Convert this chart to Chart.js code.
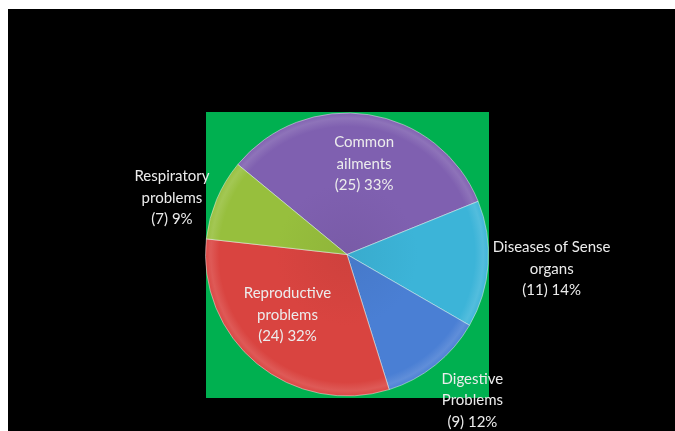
<!DOCTYPE html>
<html>
<head>
<meta charset="utf-8">
<script src="https://cdn.jsdelivr.net/npm/chart.js@4/dist/chart.umd.min.js"></script>
<style>
  html, body { margin: 0; padding: 0; background: #ffffff; }
  #wrap { position: relative; width: 675px; height: 431px; }
  canvas { display: block; }
</style>
</head>
<body>
<div id="wrap"><canvas id="c" width="675" height="431"></canvas></div>
<script>
// Health problem categories and their case counts
const categories = [
  'Common ailments',
  'Diseases of Sense organs',
  'Digestive Problems',
  'Reproductive problems',
  'Respiratory problems'
];
const counts = [25, 11, 9, 24, 7];

// Label text lines (word-wrapped names) and where they sit along each slice's mid-angle
const labelLines = [
  ['Common', 'ailments'],
  ['Diseases of Sense', 'organs'],
  ['Digestive', 'Problems'],
  ['Reproductive', 'problems'],
  ['Respiratory', 'problems']
];
const labelRadius = [0.65, 1.45, 1.36, 0.6, 1.3];
const labelAngleShift = [2, 0, -2, 5, -5];

const sliceColors = ['#7f60b0', '#3cb4d8', '#4a7fd4', '#d94440', '#97bf3d'];
const total = counts.reduce((a, b) => a + b, 0);

function shade(hex, amt) {
  const n = parseInt(hex.slice(1), 16);
  let r = (n >> 16) & 255, g = (n >> 8) & 255, b = n & 255;
  const f = v => Math.max(0, Math.min(255, Math.round(amt >= 0 ? v + (255 - v) * amt : v * (1 + amt))));
  return `rgb(${f(r)},${f(g)},${f(b)})`;
}

// Soft bevel: flat colour with a faint light rim and a darker outer edge
function sliceFill(ctx) {
  const base = sliceColors[ctx.dataIndex];
  const a = ctx.chart.chartArea;
  if (!a) return base;
  const cx = (a.left + a.right) / 2;
  const cy = (a.top + a.bottom) / 2;
  const r = Math.min(a.right - a.left, a.bottom - a.top) / 2;
  const g = ctx.chart.ctx.createRadialGradient(cx, cy, 0, cx, cy, r);
  g.addColorStop(0, shade(base, -0.05));
  g.addColorStop(0.5, base);
  g.addColorStop(0.9, base);
  g.addColorStop(0.96, shade(base, 0.12));
  g.addColorStop(0.99, shade(base, 0.04));
  g.addColorStop(1, shade(base, -0.15));
  return g;
}

const backdrop = {
  id: 'backdrop',
  beforeDraw(chart) {
    const c = chart.ctx;
    const a = chart.chartArea;
    c.save();
    c.fillStyle = '#000000';
    c.fillRect(8, 9, chart.width - 8, chart.height - 9);
    c.fillStyle = '#00b050';
    c.fillRect(a.left + 1, a.top, a.right - a.left - 1, a.bottom - a.top + 1);
    c.restore();
  }
};

const sliceLabels = {
  id: 'sliceLabels',
  afterDatasetsDraw(chart) {
    const c = chart.ctx;
    const meta = chart.getDatasetMeta(0);
    c.save();
    c.font = '15px Lato, "Open Sans", sans-serif';
    c.textAlign = 'center';
    c.textBaseline = 'middle';
    meta.data.forEach((arc, i) => {
      const mid = (arc.startAngle + arc.endAngle) / 2 + labelAngleShift[i] * Math.PI / 180;
      const r = arc.outerRadius * labelRadius[i];
      const x = arc.x + Math.cos(mid) * r;
      const y = arc.y + Math.sin(mid) * r;
      const pct = Math.round(counts[i] / total * 100);
      const lines = labelLines[i].concat([`(${counts[i]}) ${pct}%`]);
      const lh = 21.5;
      const y0 = y - (lines.length - 1) * lh / 2;
      c.fillStyle = '#ececec';
      lines.forEach((t, k) => c.fillText(t, x, y0 + k * lh));
    });
    c.restore();
  }
};

new Chart(document.getElementById('c'), {
  type: 'pie',
  data: {
    labels: categories,
    datasets: [{
      data: counts,
      backgroundColor: sliceFill,
      borderColor: 'rgba(255,255,255,0.45)',
      borderWidth: 1
    }]
  },
  options: {
    responsive: false,
    animation: false,
    rotation: -50.5,
    layout: { padding: { left: 205, right: 186, top: 112, bottom: 34 } },
    plugins: {
      legend: { display: false },
      tooltip: { enabled: false }
    }
  },
  plugins: [backdrop, sliceLabels]
});
</script>
</body>
</html>
